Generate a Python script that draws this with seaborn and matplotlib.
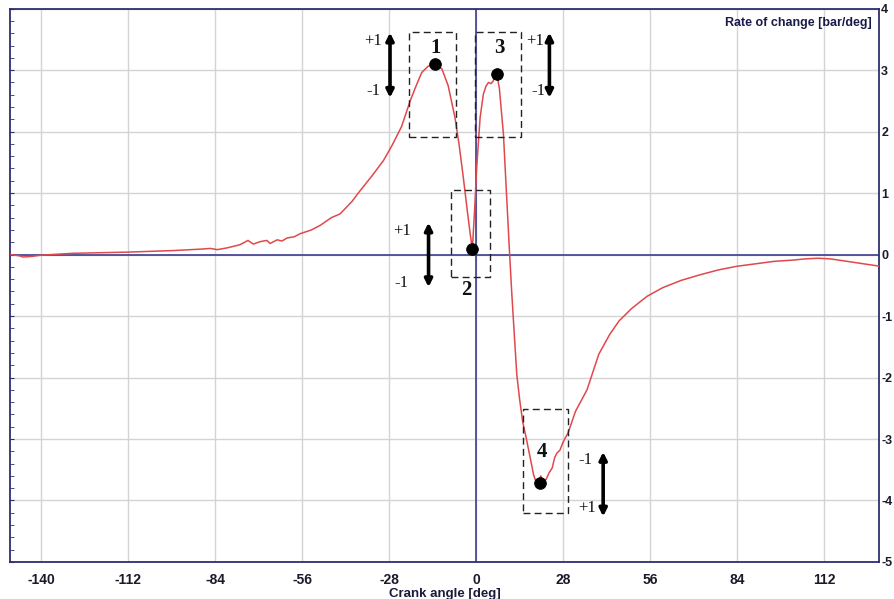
import numpy as np
import pandas as pd
import matplotlib
matplotlib.use("Agg")
import matplotlib.pyplot as plt
from matplotlib.patches import Rectangle
from matplotlib.ticker import MultipleLocator
import seaborn as sns

# =======================
# Datos
# =======================
angulo = [-150, -147, -145.8, -143, -140, -130, -112, -97.5, -88, -85.6, -83.3, -80,
          -76, -73.4, -71.7, -69.5, -67.3, -66.3, -64, -62.5, -60.8, -58.5, -56.6,
          -53, -50, -46.6, -43.8, -40, -37.3, -33.5, -29.8, -27, -24, -21.2, -19.5,
          -17.5, -15.5, -13.2, -11, -9, -6.8, -5.5, -4.1, -2.8, -1.8, -1.2, -0.5,
          0.2, 1.3, 2.35, 3.2, 4.0, 4.8, 5.5, 6.0, 6.65, 7.5, 8.2, 8.8, 9.9, 10.7,
          11.5, 12.3, 13.1, 14, 15, 16, 17.4, 18.5, 19.3, 20.2, 20.8, 21.5, 22.5,
          23.5, 24.5, 25.3, 26, 27, 28, 29.6, 32, 35.7, 39.5, 43, 46, 50, 55, 60,
          66, 72, 78, 84, 90, 96, 102, 106, 110, 114, 118, 122, 126, 130]
tasa = [0.0, -0.02, -0.04, -0.03, -0.01, 0.02, 0.04, 0.065, 0.09, 0.10, 0.08, 0.11,
        0.16, 0.23, 0.17, 0.21, 0.23, 0.18, 0.24, 0.22, 0.27, 0.29, 0.34,
        0.40, 0.48, 0.60, 0.66, 0.86, 1.04, 1.28, 1.53, 1.78, 2.08, 2.50, 2.72,
        2.96, 3.06, 3.10, 3.02, 2.75, 2.23, 1.80, 1.25, 0.70, 0.30, 0.09, 0.70,
        1.42, 2.23, 2.61, 2.74, 2.80, 2.78, 2.82, 2.92, 2.94, 2.70, 2.30, 1.96, 0.88, 0.10,
        -0.64, -1.30, -1.95, -2.35, -2.72, -2.95, -3.30, -3.58, -3.70, -3.72, -3.60, -3.68, -3.66,
        -3.55, -3.47, -3.30, -3.23, -3.18, -3.05, -2.90, -2.55, -2.20, -1.62, -1.30, -1.08, -0.88, -0.68, -0.54,
        -0.42, -0.33, -0.25, -0.19, -0.15, -0.11, -0.09, -0.07, -0.06, -0.07, -0.10, -0.13, -0.16, -0.19]

# puntos marcados 1..4
puntos_x = [-13.2, -1.2, 6.65, 20.6]
puntos_y = [3.10, 0.09, 2.94, -3.72]
puntos_lbl = ["1", "2", "3", "4"]

xticks = [-140, -112, -84, -56, -28, 0, 28, 56, 84, 112]
yticks = [-5, -4, -3, -2, -1, 0, 1, 2, 3, 4]

df = pd.DataFrame({"angulo": angulo, "tasa": tasa})
pts = pd.DataFrame({"x": puntos_x, "y": puntos_y})

# =======================
# Grafico
# =======================
sns.set_style("white")
plt.rcParams["font.family"] = ["Liberation Sans Narrow", "Liberation Sans", "DejaVu Sans"]
plt.rcParams["axes.unicode_minus"] = False

fig = plt.figure(figsize=(8.95, 5.99), dpi=100)
ax = fig.add_axes([0.0112, 0.0618, 0.9710, 0.9238])

navy = "#2e2e6e"
ax.axhline(0, color="#3c3c8c", lw=1.2, zorder=1)
ax.axvline(0, color="#3c3c8c", lw=1.2, zorder=1)
sns.lineplot(data=df, x="angulo", y="tasa", color="#e0484c", lw=1.1, ax=ax, zorder=3)
sns.scatterplot(data=pts, x="x", y="y", color="black", s=70, edgecolor="black", ax=ax, zorder=5)

ax.set_xlim(-150, 129.7)
ax.set_ylim(-5, 4)
ax.set_xticks(xticks)
ax.set_yticks(yticks)
ax.xaxis.set_minor_locator(MultipleLocator(7))
ax.yaxis.set_minor_locator(MultipleLocator(0.2))
ax.grid(True, which="major", color="#d4d4d4", lw=1)
ax.tick_params(axis="x", which="both", direction="in", length=5, color=navy,
               labelsize=10, pad=8)
ax.tick_params(axis="y", which="both", direction="in", length=3, color=navy,
               left=True, right=False, labelleft=False, labelright=True,
               labelsize=9, pad=1.5)
for lab in ax.get_xticklabels() + ax.get_yticklabels():
    lab.set_fontweight("bold")
    lab.set_color("#1a1a2a")
for s in ax.spines.values():
    s.set_color(navy)
    s.set_linewidth(1.3)

ax.set_xlabel("Crank angle [deg]", fontsize=9.5, fontweight="bold", color="#1a1a3a", labelpad=1)
ax.set_ylabel("")
ax.text(0.992, 0.985, "Rate of change [bar/deg]", transform=ax.transAxes, ha="right", va="top",
        fontsize=9, fontweight="bold", color="#1a1a4a")

# cajas discontinuas
cajas = [(-21.5, 1.92, 15.0, 1.70), (-0.3, 1.92, 14.8, 1.70),
         (-8.1, -0.36, 12.7, 1.41), (15.0, -4.21, 14.5, 1.70)]
for (x0, y0, w, h) in cajas:
    ax.add_patch(Rectangle((x0, y0), w, h, fill=False, ls=(0, (5, 3)), lw=1, ec="#222222", zorder=4))

# flechas dobles
flechas = [(-27.7, 3.61, 2.55), (23.6, 3.61, 2.55), (-15.3, 0.52, -0.53), (40.9, -3.21, -4.26)]
for (fx, y1, y2) in flechas:
    ax.annotate("", xy=(fx, y1), xytext=(fx, y2),
                arrowprops=dict(arrowstyle="<|-|>", lw=2.6, color="black", mutation_scale=11,
                                shrinkA=0, shrinkB=0), zorder=6)

serif = ["Liberation Serif", "DejaVu Serif"]
textos = [(-33.1, 3.47, "+1"), (-33.1, 2.66, "-1"), (19.0, 3.47, "+1"), (20.0, 2.66, "-1"),
          (-23.9, 0.39, "+1"), (-23.9, -0.47, "-1"), (35.1, -3.34, "-1"), (35.6, -4.12, "+1")]
for (tx, ty, t) in textos:
    ax.text(tx, ty, t, ha="center", va="center", fontsize=12, family=serif, color="#111111", zorder=6)

num_pos = [(-13.2, 3.36), (-3.2, -0.58), (7.5, 3.36), (21.2, -3.21)]
for (nx, ny), t in zip(num_pos, puntos_lbl):
    ax.text(nx, ny, t, ha="center", va="center", fontsize=15, fontweight="bold",
            family=serif, color="#111111", zorder=6)

plt.savefig("out.png", dpi=100)
